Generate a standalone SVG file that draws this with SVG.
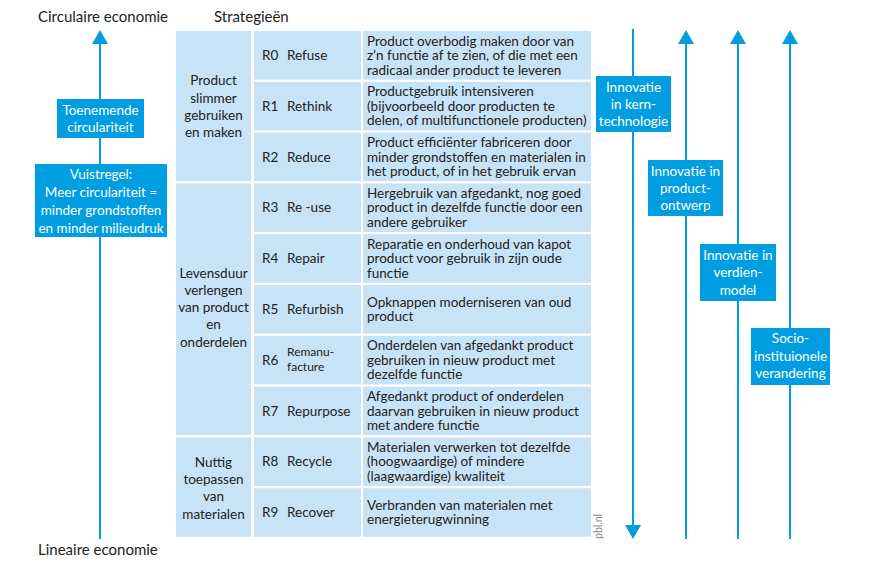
<svg xmlns="http://www.w3.org/2000/svg" width="885" height="570" viewBox="0 0 885 570">
<defs>
<marker id="ah" viewBox="0 0 14 16" refX="4" refY="8" markerWidth="14" markerHeight="16" markerUnits="userSpaceOnUse" orient="auto">
<path d="M0,0 L14,8 L0,16 Z" fill="#009ee0"/>
</marker>
<style>
text{font-family:Lato,"Noto Sans","Liberation Sans",sans-serif;fill:#222;font-size:13.5px}
.h{font-size:15px}
.g{font-size:13.5px;text-anchor:middle}
.w{fill:#fff;font-size:13.5px;text-anchor:middle}
.sm{font-size:12px}
.cell{fill:#c7e3f7}
.box{fill:#009ee0}
.ln{stroke:#009ee0;stroke-width:2;fill:none}
.pbl{fill:#8c8c8c;font-size:10.5px}
</style>
</defs>
<rect width="885" height="570" fill="#fff"/>
<text class="h" x="38" y="22">Circulaire economie</text>
<text class="h" x="214" y="22">Strategieën</text>
<text class="h" x="38" y="555">Lineaire economie</text>
<text class="pbl" transform="translate(602,539) rotate(-90)">pbl.nl</text>

<g id="connectors">
<line class="ln" x1="100" y1="539" x2="100" y2="40" marker-end="url(#ah)"/>
<line class="ln" x1="633" y1="29" x2="633" y2="529" marker-end="url(#ah)"/>
<line class="ln" x1="686" y1="539" x2="686" y2="40" marker-end="url(#ah)"/>
<line class="ln" x1="738" y1="539" x2="738" y2="40" marker-end="url(#ah)"/>
<line class="ln" x1="790" y1="539" x2="790" y2="40" marker-end="url(#ah)"/>
</g>

<g id="toenemende">
<rect class="box" x="57" y="99" width="87" height="39"/>
<text class="w" x="100.5" y="115">Toenemende</text>
<text class="w" x="100.5" y="132">circulariteit</text>
</g>
<g id="vuistregel">
<rect class="box" x="35" y="164" width="132" height="73"/>
<text class="w" x="101" y="179">Vuistregel:</text>
<text class="w" x="101" y="197">Meer circulariteit =</text>
<text class="w" x="101" y="215">minder grondstoffen</text>
<text class="w" x="101" y="233">en minder milieudruk</text>
</g>

<g id="group1">
<rect class="cell" x="176" y="31" width="75" height="150.2"/>
<text class="g" x="213.5" y="85">Product</text>
<text class="g" x="213.5" y="102.5">slimmer</text>
<text class="g" x="213.5" y="120">gebruiken</text>
<text class="g" x="213.5" y="137">en maken</text>
</g>
<g id="group2">
<rect class="cell" x="176" y="183.4" width="75" height="251.8"/>
<text class="g" x="213.5" y="278">Levensduur</text>
<text class="g" x="213.5" y="295">verlengen</text>
<text class="g" x="213.5" y="312">van product</text>
<text class="g" x="213.5" y="329">en</text>
<text class="g" x="213.5" y="347">onderdelen</text>
</g>
<g id="group3">
<rect class="cell" x="176" y="437.4" width="75" height="99.4"/>
<text class="g" x="213.5" y="467">Nuttig</text>
<text class="g" x="213.5" y="484">toepassen</text>
<text class="g" x="213.5" y="501">van</text>
<text class="g" x="213.5" y="519">materialen</text>
</g>

<g id="r0">
<rect class="cell" x="254" y="31" width="107" height="48.6"/>
<rect class="cell" x="363" y="31" width="228" height="48.6"/>
<text x="262" y="60">R0</text><text x="287" y="60">Refuse</text>
<text x="367" y="45.5">Product overbodig maken door van</text>
<text x="367" y="60">z’n functie af te zien, of die met een</text>
<text x="367" y="74.5">radicaal ander product te leveren</text>
</g>
<g id="r1">
<rect class="cell" x="254" y="81.8" width="107" height="48.6"/>
<rect class="cell" x="363" y="81.8" width="228" height="48.6"/>
<text x="262" y="110.8">R1</text><text x="287" y="110.8">Rethink</text>
<text x="367" y="96.3">Productgebruik intensiveren</text>
<text x="367" y="110.8">(bijvoorbeeld door producten te</text>
<text x="367" y="125.3">delen, of multifunctionele producten)</text>
</g>
<g id="r2">
<rect class="cell" x="254" y="132.6" width="107" height="48.6"/>
<rect class="cell" x="363" y="132.6" width="228" height="48.6"/>
<text x="262" y="161.6">R2</text><text x="287" y="161.6">Reduce</text>
<text x="367" y="147.1">Product efficiënter fabriceren door</text>
<text x="367" y="161.6">minder grondstoffen en materialen in</text>
<text x="367" y="176.1">het product, of in het gebruik ervan</text>
</g>
<g id="r3">
<rect class="cell" x="254" y="183.4" width="107" height="48.6"/>
<rect class="cell" x="363" y="183.4" width="228" height="48.6"/>
<text x="262" y="212.4">R3</text><text x="287" y="212.4">Re -use</text>
<text x="367" y="197.9">Hergebruik van afgedankt, nog goed</text>
<text x="367" y="212.4">product in dezelfde functie door een</text>
<text x="367" y="226.9">andere gebruiker</text>
</g>
<g id="r4">
<rect class="cell" x="254" y="234.2" width="107" height="48.6"/>
<rect class="cell" x="363" y="234.2" width="228" height="48.6"/>
<text x="262" y="263.2">R4</text><text x="287" y="263.2">Repair</text>
<text x="367" y="248.7">Reparatie en onderhoud van kapot</text>
<text x="367" y="263.2">product voor gebruik in zijn oude</text>
<text x="367" y="277.7">functie</text>
</g>
<g id="r5">
<rect class="cell" x="254" y="285" width="107" height="48.6"/>
<rect class="cell" x="363" y="285" width="228" height="48.6"/>
<text x="262" y="314">R5</text><text x="287" y="314">Refurbish</text>
<text x="367" y="306.7">Opknappen moderniseren van oud</text>
<text x="367" y="321.2">product</text>
</g>
<g id="r6">
<rect class="cell" x="254" y="335.8" width="107" height="48.6"/>
<rect class="cell" x="363" y="335.8" width="228" height="48.6"/>
<text x="262" y="364.8">R6</text>
<text class="sm" x="287" y="356">Remanu-</text><text class="sm" x="287" y="370.5">facture</text>
<text x="367" y="350.3">Onderdelen  van afgedankt product</text>
<text x="367" y="364.8">gebruiken in nieuw product met</text>
<text x="367" y="379.3">dezelfde functie</text>
</g>
<g id="r7">
<rect class="cell" x="254" y="386.6" width="107" height="48.6"/>
<rect class="cell" x="363" y="386.6" width="228" height="48.6"/>
<text x="262" y="415.6">R7</text><text x="287" y="415.6">Repurpose</text>
<text x="367" y="401.1">Afgedankt product of onderdelen</text>
<text x="367" y="415.6">daarvan gebruiken in nieuw product</text>
<text x="367" y="430.1">met andere functie</text>
</g>
<g id="r8">
<rect class="cell" x="254" y="437.4" width="107" height="48.6"/>
<rect class="cell" x="363" y="437.4" width="228" height="48.6"/>
<text x="262" y="466.4">R8</text><text x="287" y="466.4">Recycle</text>
<text x="367" y="451.9">Materialen verwerken  tot  dezelfde</text>
<text x="367" y="466.4">(hoogwaardige) of mindere</text>
<text x="367" y="480.9">(laagwaardige) kwaliteit</text>
</g>
<g id="r9">
<rect class="cell" x="254" y="488.2" width="107" height="48.6"/>
<rect class="cell" x="363" y="488.2" width="228" height="48.6"/>
<text x="262" y="517.2">R9</text><text x="287" y="517.2">Recover</text>
<text x="367" y="509.9">Verbranden van materialen met</text>
<text x="367" y="524.4">energieterugwinning</text>
</g>

<g id="kern">
<rect class="box" x="596" y="76" width="75" height="56"/>
<text class="w" x="633.5" y="92">Innovatie</text>
<text class="w" x="633.5" y="109">in kern-</text>
<text class="w" x="633.5" y="126">technologie</text>
</g>
<g id="product">
<rect class="box" x="648" y="160" width="75" height="56"/>
<text class="w" x="685.5" y="176">Innovatie in</text>
<text class="w" x="685.5" y="193">product-</text>
<text class="w" x="685.5" y="210">ontwerp</text>
</g>
<g id="verdien">
<rect class="box" x="700" y="244" width="76" height="57"/>
<text class="w" x="738" y="260">Innovatie in</text>
<text class="w" x="738" y="277">verdien-</text>
<text class="w" x="738" y="295">model</text>
</g>
<g id="socio">
<rect class="box" x="751" y="328" width="79" height="57"/>
<text class="w" x="790.5" y="343">Socio-</text>
<text class="w" x="790.5" y="361">instituionele</text>
<text class="w" x="790.5" y="378">verandering</text>
</g>
</svg>
